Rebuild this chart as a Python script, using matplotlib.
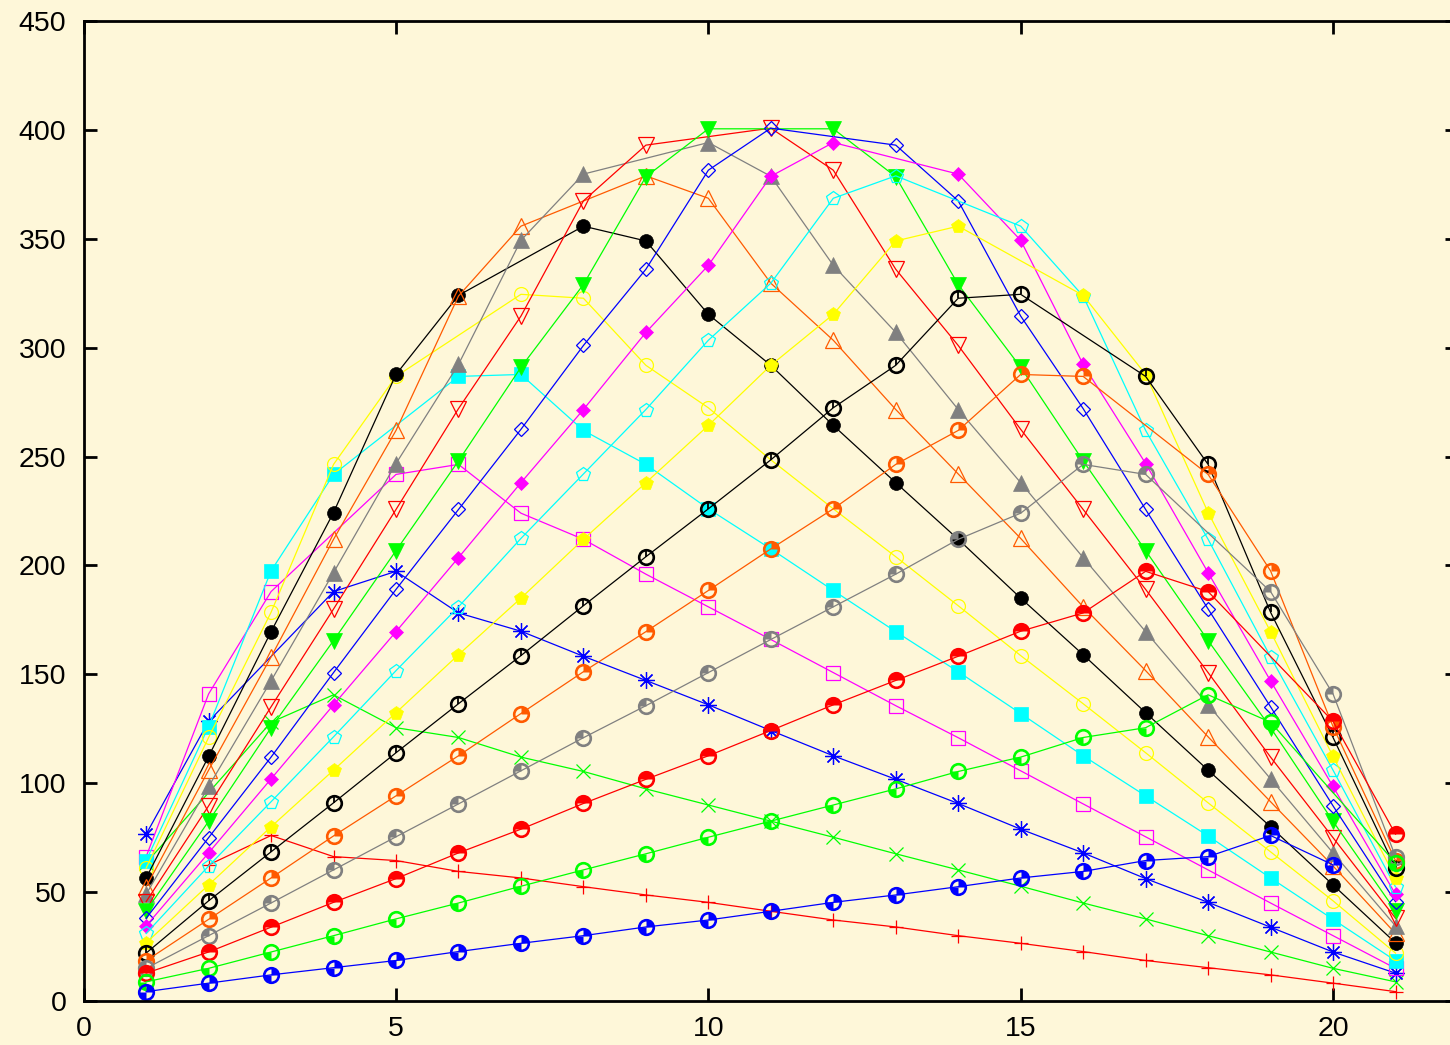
import numpy as np
import matplotlib
matplotlib.use("Agg")
import matplotlib.pyplot as plt
from matplotlib.path import Path

nan = np.nan

# x positions (1..21); the diagonal point of each curve is absent (nan)
x = np.arange(1, 22)

s01 = [nan, 62.5, 76.0, 66.3, 64.5, 59.5, 56.5, 52.5, 48.7, 45.3, 41.2, 37.2, 34.0, 30.0, 26.5, 22.7, 18.6, 15.3, 12.0, 8.2, 4.3]
s02 = [63.4, nan, 128.0, 140.6, 125.5, 121.0, 112.0, 105.4, 97.4, 90.0, 82.6, 75.2, 67.6, 60.2, 52.7, 45.0, 37.7, 30.0, 22.5, 15.0, 8.8]
s03 = [76.6, 128.4, nan, 188.0, 197.3, 178.2, 169.8, 158.3, 147.2, 136.0, 124.2, 112.6, 101.8, 90.7, 78.9, 68.0, 56.2, 45.3, 33.9, 22.5, 12.8]
s04 = [66.3, 141.0, 188.0, nan, 241.8, 246.4, 224.0, 212.0, 196.0, 181.0, 166.0, 150.8, 135.6, 120.9, 105.7, 90.5, 75.4, 60.2, 45.0, 30.0, 15.0]
s05 = [64.5, 126.0, 197.5, 241.8, nan, 286.8, 287.7, 262.0, 246.4, 226.0, 207.6, 188.5, 169.6, 151.2, 132.0, 112.6, 94.2, 75.8, 56.5, 37.5, 18.5]
s06 = [61.0, 121.0, 178.5, 246.4, 286.8, nan, 324.5, 322.7, 291.9, 272.4, 248.5, 226.0, 204.0, 181.5, 158.6, 136.5, 114.0, 91.0, 68.5, 46.0, 22.0]
s07 = [56.5, 112.3, 169.6, 224.3, 287.7, 324.0, nan, 355.8, 349.0, 315.3, 291.9, 264.3, 238.0, 212.0, 185.0, 159.0, 132.4, 106.0, 80.0, 53.3, 26.7]
s08 = [52.4, 106.0, 158.0, 212.0, 262.0, 323.7, 355.8, nan, 378.9, 368.6, 329.6, 303.4, 271.6, 242.0, 212.4, 181.0, 151.7, 121.3, 91.5, 62.0, 31.0]
s09 = [49.0, 98.5, 147.0, 196.7, 246.8, 292.3, 349.3, 379.7, nan, 394.2, 378.7, 337.8, 307.0, 271.6, 238.0, 203.6, 169.6, 136.0, 102.0, 68.0, 34.5]
s10 = [45.6, 89.6, 135.1, 180.0, 225.7, 272.0, 314.5, 367.4, 393.0, nan, 400.8, 381.5, 336.0, 301.0, 262.5, 225.7, 189.0, 150.8, 112.0, 75.0, 38.0]
s11 = [41.4, 82.5, 125.5, 165.5, 206.8, 248.0, 291.0, 329.0, 378.5, 400.5, nan, 400.5, 378.5, 329.0, 291.0, 248.0, 206.8, 165.5, 125.5, 82.5, 41.4]
s12 = [38.0, 75.0, 112.0, 150.8, 189.0, 225.7, 262.5, 301.0, 336.0, 381.5, 400.8, nan, 393.0, 367.4, 314.5, 272.0, 225.7, 180.0, 135.1, 89.6, 45.6]
s13 = [34.5, 68.0, 102.0, 136.0, 169.6, 203.6, 238.0, 271.6, 307.0, 337.8, 378.7, 394.2, nan, 379.7, 349.3, 292.3, 246.8, 196.7, 147.0, 98.5, 49.0]
s14 = [31.0, 62.0, 91.5, 121.3, 151.7, 181.0, 212.4, 242.0, 271.6, 303.4, 329.6, 368.6, 378.9, nan, 355.8, 323.7, 262.0, 212.0, 158.0, 106.0, 52.4]
s15 = [26.7, 53.3, 80.0, 106.0, 132.4, 159.0, 185.0, 212.0, 238.0, 264.3, 291.9, 315.3, 349.0, 355.8, nan, 324.0, 287.7, 224.3, 169.6, 112.3, 56.5]
s16 = [22.0, 46.0, 68.5, 91.0, 114.0, 136.5, 158.6, 181.5, 204.0, 226.0, 248.5, 272.4, 291.9, 322.7, 324.5, nan, 286.8, 246.4, 178.5, 121.0, 61.0]
s17 = [18.5, 37.5, 56.5, 75.8, 94.2, 112.6, 132.0, 151.2, 169.6, 188.5, 207.6, 226.0, 246.4, 262.0, 287.7, 286.8, nan, 241.8, 197.5, 126.0, 64.5]
s18 = [15.0, 30.0, 45.0, 60.2, 75.4, 90.5, 105.7, 120.9, 135.6, 150.8, 166.0, 181.0, 196.0, 212.0, 224.0, 246.4, 241.8, nan, 188.0, 141.0, 66.3]
s19 = [12.8, 22.5, 33.9, 45.3, 56.2, 68.0, 78.9, 90.7, 101.8, 112.6, 124.2, 136.0, 147.2, 158.3, 169.8, 178.2, 197.3, 188.0, nan, 128.4, 76.6]
s20 = [8.8, 15.0, 22.5, 30.0, 37.7, 45.0, 52.7, 60.2, 67.6, 75.2, 82.6, 90.0, 97.4, 105.4, 112.0, 121.0, 125.5, 140.6, 128.0, nan, 63.4]
s21 = [4.3, 8.2, 12.0, 15.3, 18.6, 22.7, 26.5, 30.0, 34.0, 37.2, 41.2, 45.3, 48.7, 52.5, 56.5, 59.5, 64.5, 66.3, 76.0, 62.5, nan]

series = [s01, s02, s03, s04, s05, s06, s07, s08, s09, s10, s11,
          s12, s13, s14, s15, s16, s17, s18, s19, s20, s21]

bg = "#fef7d9"
palette = ["#ff0000", "#00ff00", "#0000ff", "#ff00ff", "#00ffff",
           "#ffff00", "#000000", "#ff5a00", "#808080"]


def wedge(*spans):
    """ filled circle quadrants, unit radius, centred on the point """
    return Path.make_compound_path(*[Path.wedge(a, b) for a, b in spans])


# gnuplot-like point types: (marker, size, filled)
points = [
    ("+", 10, False), ("x", 9.5, False), ((8, 2, 0), 12, False),
    ("s", 9.5, False), ("s", 9.5, True), ("o", 10, False), ("o", 10, True),
    ("^", 12, False), ("^", 12, True), ("v", 12, False), ("v", 12, True),
    ("D", 7, False), ("D", 7, True), ("p", 10.5, False), ("p", 10.5, True),
]
# circle types with quadrant fills (C0 .. C5)
quadrants = [
    None,
    wedge((0, 90)),
    wedge((90, 180)),
    wedge((0, 180)),
    wedge((180, 270)),
    wedge((0, 90), (180, 270)),
]
radius_line = Path([(0, 0), (0, 1)], [Path.MOVETO, Path.LINETO])

plt.rcParams["font.family"] = ["Liberation Sans", "DejaVu Sans"]

fig = plt.figure(figsize=(14.5, 10.45), dpi=100, facecolor=bg)
ax = fig.add_axes([0.0577, 0.0421, 0.9478, 0.9378])
ax.set_facecolor(bg)

for i, ys in enumerate(series):
    y = np.array(ys, dtype=float)
    ok = ~np.isnan(y)
    col = palette[i % len(palette)]
    if i < len(points):
        mk, ms, filled = points[i]
        ax.plot(x[ok], y[ok], color=col, lw=0.9, marker=mk, ms=ms,
                mfc=col if filled else "none", mec=col,
                mew=0.5 if filled else 0.9, clip_on=False)
    else:
        ax.plot(x[ok], y[ok], color=col, lw=0.9, marker="o", ms=10.5,
                mfc="none", mec=col, mew=1.9, clip_on=False)
        q = quadrants[i - len(points)]
        if q is None:
            ax.plot(x[ok], y[ok], ls="none", marker=radius_line, ms=10.5,
                    mec=col, mew=1.3, clip_on=False)
        else:
            ax.plot(x[ok], y[ok], ls="none", marker=q, ms=10.5,
                    mfc=col, mec=col, mew=0, clip_on=False)

ax.set_xlim(0, 22)
ax.set_ylim(0, 450)
ax.set_xticks([0, 5, 10, 15, 20])
ax.set_yticks(np.arange(0, 451, 50))
ax.tick_params(direction="in", length=9.5, width=2, top=True, right=True,
               labelsize=20.5)
ax.tick_params(axis="x", pad=11)
ax.tick_params(axis="y", pad=12.5)
for lbl in ax.get_xticklabels():
    lbl.set_x(lbl.get_position()[0])
for sp in ax.spines.values():
    sp.set_linewidth(2)

fig.savefig("out.png", dpi=100, facecolor=bg)
